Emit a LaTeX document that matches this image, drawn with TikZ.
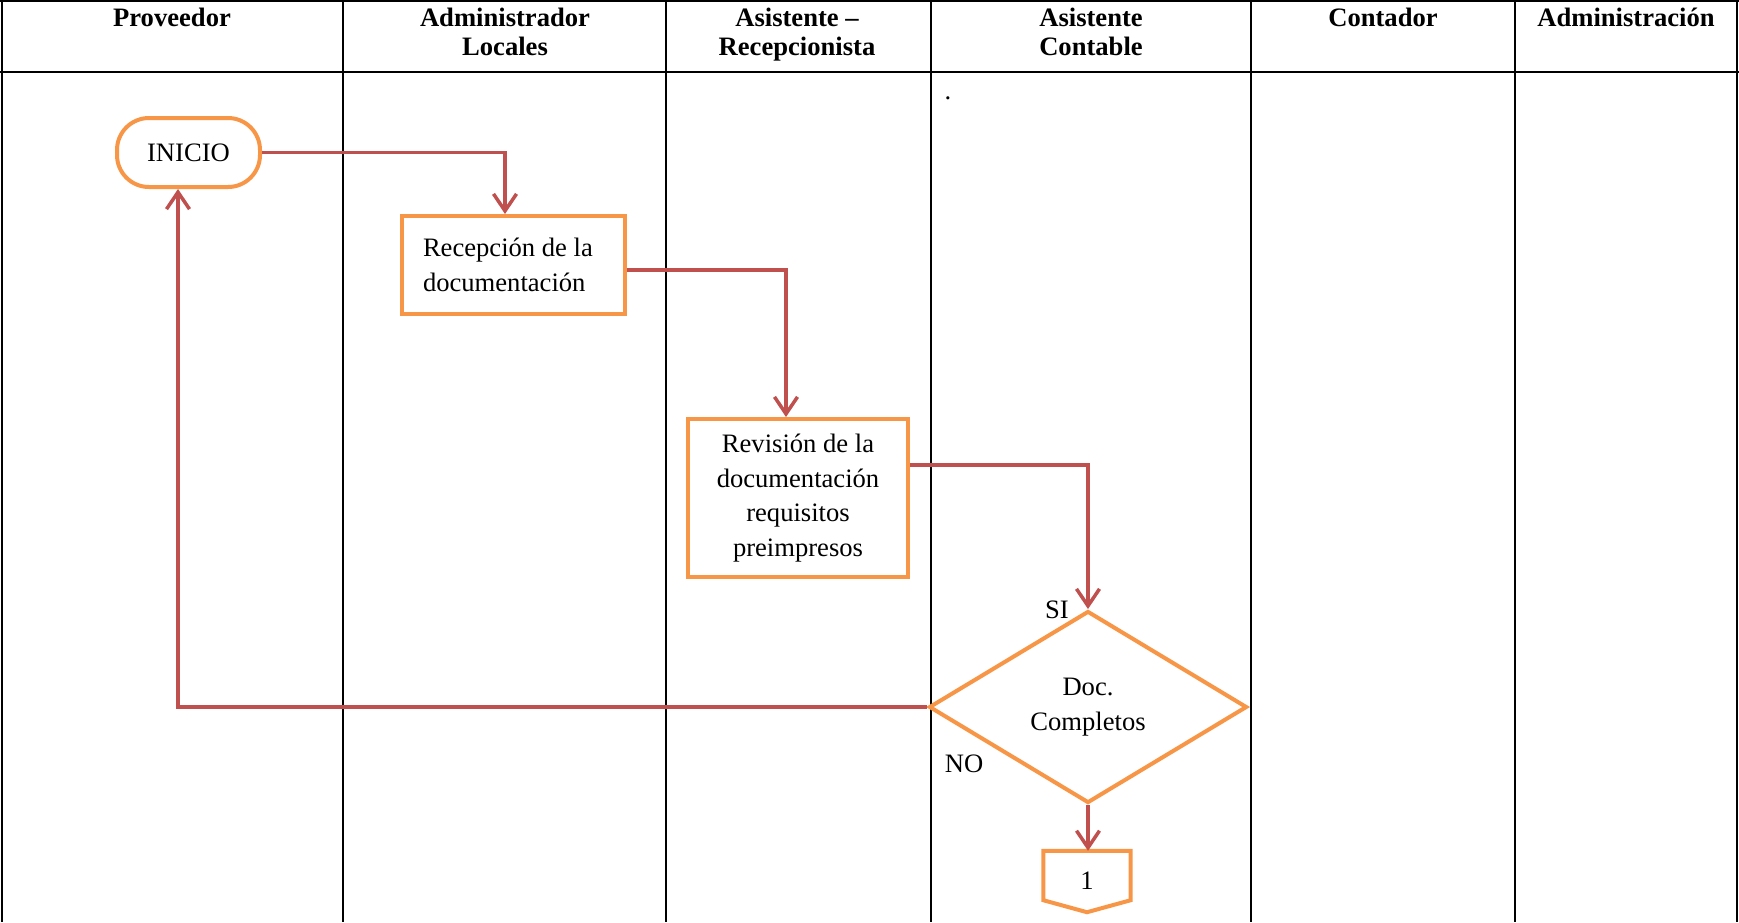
\documentclass[tikz,border=0pt]{standalone}
\usepackage{fontspec}
\setmainfont{Liberation Serif}
\usetikzlibrary{arrows.meta,shapes.geometric,calc}
\definecolor{boxorange}{HTML}{F79646}
\definecolor{arrred}{HTML}{C0504D}
\begin{document}
\begin{tikzpicture}[x=1pt,y=-1pt,
 tline/.style={black,line width=2pt},
 head/.style={font=\fontsize{26.6}{29}\selectfont\bfseries,align=center,anchor=north,inner sep=0pt},
 body/.style={font=\fontsize{26.6}{34.5}\selectfont},
 procbox/.style={body,draw=boxorange,line width=4pt,fill=white,inner sep=0pt},
 arr/.style={draw=arrred,line width=3.5pt,-{Straight Barb[length=17pt,width=23pt]}},
 lbl/.style={body,inner sep=0pt}]
\useasboundingbox (0,0) rectangle (1739,922);
% table
\draw[tline] (0,1) -- (1739,1);
\draw[black,line width=2.5pt] (0,72) -- (1739,72);
\foreach \x in {2,343,666,931,1251,1515,1737} \draw[tline] (\x,0) -- (\x,922);
% headers
\node[head] (h1) at (172,8) {Proveedor};
\node[head] (h2) at (505,8) {Administrador\\Locales};
\node[head] (h3) at (797,8) {Asistente –\\Recepcionista};
\node[head] (h4) at (1091,8) {Asistente\\Contable};
\node[head] (h5) at (1383,8) {Contador};
\node[head] (h6) at (1626,8) {Administración};
\node[lbl,anchor=base] (dot) at (948,99) {.};
% nodes
\node[procbox, rounded corners=32pt, minimum width=143pt, minimum height=69pt] (inicio) at (188.5,152.5) {INICIO};
\node[procbox, align=flush left, text width=181pt, minimum width=223pt, minimum height=98pt] (recep) at (513.5,265) {Recepción de la\\documentación};
\node[procbox, align=center, minimum width=220pt, minimum height=158pt] (rev) at (798,498) {Revisión de la\\documentación\\requisitos\\preimpresos};
\node[body, draw=boxorange, line width=4pt, diamond, aspect=1.656, minimum width=318pt, minimum height=192pt, inner sep=0pt, align=center] (dec) at (1088,707) {Doc.\\Completos};
\node[lbl, minimum width=87pt, minimum height=49pt, text height=27pt] (conn) at (1087,875.5) {1};
\draw[boxorange,line width=4pt,line join=miter] (conn.north west) -- (conn.north east) -- (conn.south east) -- ($(conn.south)+(0,12)$) -- (conn.south west) -- cycle;
\node[lbl] (si) at (1057,610) {SI};
\node[lbl] (no) at (964,764) {NO};
% connectors
\coordinate (k1) at (505,0);
\coordinate (k2) at (786,270);
\coordinate (k3) at (1088,465);
\coordinate (k4) at (178,0);
\draw[arr] (inicio.east) -| (k1 |- recep.north);
\draw[arr] (recep.east |- k2) -| (k2 |- rev.north);
\draw[arr] (rev.east |- k3) -| (dec.north);
\draw[arr] (dec.south) -- (dec.south |- conn.north);
\draw[arr] (dec.west) -| (k4 |- inicio.south);
\end{tikzpicture}
\end{document}
